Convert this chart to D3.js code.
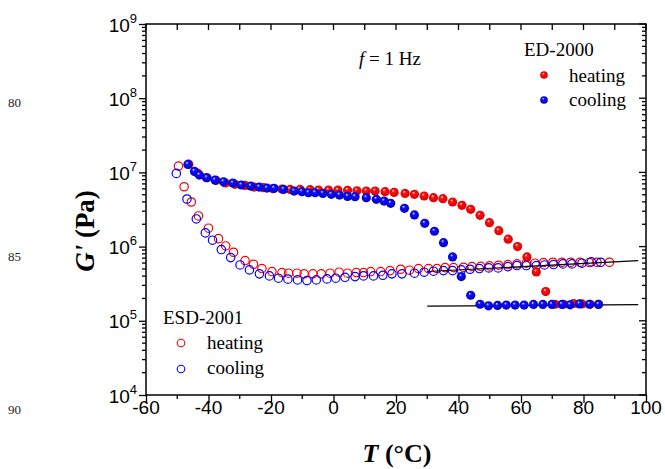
<!DOCTYPE html>
<html><head><meta charset="utf-8">
<script src="https://cdn.jsdelivr.net/npm/d3@7"></script>
<style>body{margin:0;background:#fff}svg{display:block}</style>
</head><body>
<svg id="c" width="665" height="469"></svg>
<script>
// ---------- data ----------
const xTicks = [-60,-40,-20,0,20,40,60,80,100];
const yTickExps = [4,5,6,7,8,9];
const marginNumbers = ["80","85","90"];

// ED-2000 heating (filled red)
const edHeatT = [-46.3,-43.5,-40.7,-37.6,-34.6,-31.5,-28.3,-25.4,-22.4,-19.4,-16.5,-13.9,-10.7,-7.5,-4.8,-1.6,1.4,4.5,7.5,10.5,13.3,16.5,19.4,22.9,25.9,29.0,32.0,35.0,38.1,41.1,43.9,46.9,49.9,52.9,55.9,58.9,61.9,64.9,67.9,70.9,73.6,76.8,79.5,82.1,84.8];
const edHeatG = [1.29e7,9.8e6,8.5e6,7.8e6,7.2e6,6.9e6,6.68e6,6.35e6,6.22e6,6.03e6,5.97e6,5.90e6,5.90e6,5.85e6,5.78e6,5.78e6,5.78e6,5.73e6,5.66e6,5.61e6,5.61e6,5.50e6,5.38e6,5.21e6,5.06e6,4.81e6,4.56e6,4.43e6,3.99e6,3.60e6,3.18e6,2.64e6,2.10e6,1.64e6,1.26e6,1.00e6,7.26e5,4.56e5,2.48e5,1.67e5,1.67e5,1.71e5,1.69e5,1.67e5,1.67e5];

// ED-2000 cooling (filled blue)
const edCoolT = [-46.6,-44.5,-42.9,-40.5,-37.9,-35.2,-32.2,-29.5,-26.5,-23.8,-21.3,-19.0,-16.0,-12.6,-10.1,-8.0,-5.9,-3.4,-0.7,1.9,4.5,6.9,10.5,13.7,16.2,18.3,22.7,25.9,29.2,32.3,35.2,38.1,40.9,43.9,46.9,49.6,52.5,55.3,58.1,61.0,64.0,67.0,69.9,73.1,75.7,78.7,81.9,84.8];
const edCoolG = [1.282e7,1.030e7,9.20e6,8.47e6,7.89e6,7.48e6,7.19e6,6.76e6,6.55e6,6.35e6,6.15e6,6.10e6,5.90e6,5.61e6,5.50e6,5.32e6,5.32e6,5.21e6,5.06e6,4.95e6,4.75e6,4.71e6,4.56e6,4.34e6,4.11e6,3.83e6,3.28e6,2.67e6,2.06e6,1.61e6,1.13e6,7.26e5,3.94e5,2.21e5,1.67e5,1.59e5,1.61e5,1.63e5,1.63e5,1.63e5,1.66e5,1.66e5,1.66e5,1.66e5,1.64e5,1.69e5,1.67e5,1.66e5];

// ESD-2001 heating (open red)
const esdHeatT = [-49.6,-47.8,-45.5,-43.2,-40.0,-36.8,-34.5,-32.0,-28.3,-25.6,-22.9,-19.7,-16.5,-14.4,-11.7,-9.4,-6.6,-3.9,-1.1,1.8,4.5,7.3,9.6,11.9,15.1,18.1,21.5,24.3,27.2,30.4,33.1,35.7,38.4,41.6,44.3,47.1,49.9,52.8,55.8,58.7,61.7,64.5,67.2,70.2,73.1,75.9,78.9,81.9,84.3,88.3];
const esdHeatG = [1.216e7,6.41e6,3.99e6,2.59e6,1.77e6,1.28e6,1.02e6,8.39e5,6.49e5,5.78e5,5.06e5,4.61e5,4.47e5,4.38e5,4.38e5,4.29e5,4.29e5,4.29e5,4.38e5,4.52e5,4.38e5,4.47e5,4.47e5,4.61e5,4.61e5,4.75e5,4.95e5,4.81e5,5.06e5,5.06e5,5.06e5,5.21e5,5.21e5,5.27e5,5.38e5,5.43e5,5.50e5,5.61e5,5.73e5,5.85e5,5.97e5,5.97e5,6.10e5,6.15e5,6.15e5,6.15e5,6.15e5,6.10e5,6.15e5,6.15e5];

// ESD-2001 cooling (open blue)
const esdCoolT = [-50.3,-46.9,-43.9,-41.0,-38.7,-35.9,-32.9,-29.9,-26.9,-23.7,-20.5,-17.6,-14.6,-11.5,-8.5,-5.5,-2.1,0.7,3.7,6.9,9.6,12.8,15.8,18.7,21.9,25.9,29.0,32.0,35.2,38.1,40.9,43.7,46.7,49.7,52.7,55.8,58.7,61.7,64.9,67.5,70.4,73.4,76.3,79.5,82.5,85.5];
const esdCoolG = [9.70e6,4.38e6,2.36e6,1.53e6,1.22e6,9.12e5,7.11e5,5.66e5,4.85e5,4.29e5,4.03e5,3.75e5,3.64e5,3.56e5,3.49e5,3.56e5,3.67e5,3.75e5,3.86e5,3.94e5,4.03e5,4.03e5,4.11e5,4.29e5,4.29e5,4.38e5,4.52e5,4.66e5,4.75e5,4.75e5,4.85e5,4.95e5,5.06e5,5.16e5,5.16e5,5.38e5,5.55e5,5.55e5,5.55e5,5.66e5,5.73e5,5.85e5,5.85e5,5.97e5,6.22e5,6.15e5];

// fitted straight lines
const fitUpperT = [30, 97.5], fitUpperG = [4.62e5, 6.46e5];
const fitLowerT = [30, 97.5], fitLowerG = [1.574e5, 1.652e5];

// ---------- drawing ----------
const svg = d3.select("#c");
const L = 146, R = 646, T = 24, B = 395;
const x = d3.scaleLinear().domain([-60,100]).range([L,R]);
const y = d3.scaleLog().domain([1e4,1e9]).range([B,T]);
const serif = "'Liberation Serif','Times New Roman',serif";
const sans = "'Liberation Sans',Arial,sans-serif";

const defs = svg.append("defs");
function grad(id, c0, c1){
  const g = defs.append("radialGradient").attr("id", id)
    .attr("cx","50%").attr("cy","50%").attr("r","55%").attr("fx","38%").attr("fy","30%");
  g.append("stop").attr("offset","0%").attr("stop-color","#ffffff");
  g.append("stop").attr("offset","28%").attr("stop-color",c0);
  g.append("stop").attr("offset","100%").attr("stop-color",c1);
}
grad("gRed","#ff1010","#d00000");
grad("gBlue","#1010ff","#0000b8");

// margin line numbers
svg.selectAll("text.mn").data(marginNumbers).enter().append("text")
  .attr("x",8).attr("y",(d,i)=>107+i*153.5)
  .attr("font-family",serif).attr("font-size",13).attr("fill","#222").text(d=>d);

// axes
const ax = svg.append("g").attr("stroke","#000").attr("fill","none");
const minorX = d3.range(-50,100,20);
ax.append("g").attr("transform",`translate(0,${B})`)
  .call(d3.axisBottom(x).tickValues(xTicks).tickSize(8).tickFormat(""))
  .call(g=>{g.select(".domain").remove();});
ax.selectAll(".bmin").data(minorX).enter().append("line")
  .attr("x1",d=>x(d)).attr("x2",d=>x(d)).attr("y1",B).attr("y2",B+4);
ax.selectAll(".tt").data(d3.range(-60,101,10)).enter().append("line")
  .attr("x1",d=>x(d)).attr("x2",d=>x(d)).attr("y1",T).attr("y2",T+6);
const yMajor = yTickExps.map(e=>Math.pow(10,e));
const yMinor = [];
for (let e=4;e<9;e++) for (let m=2;m<=9;m++) yMinor.push(m*Math.pow(10,e));
ax.append("g").attr("transform",`translate(${L},0)`)
  .call(d3.axisLeft(y).tickValues(yMajor).tickSize(7).tickFormat(""))
  .call(g=>g.select(".domain").remove());
ax.selectAll(".lmin").data(yMinor).enter().append("line")
  .attr("x1",L).attr("x2",L-4).attr("y1",d=>y(d)).attr("y2",d=>y(d));
ax.selectAll(".rmaj").data(yMajor).enter().append("line")
  .attr("x1",R).attr("x2",R-7).attr("y1",d=>y(d)).attr("y2",d=>y(d));
ax.selectAll(".rmin").data(yMinor).enter().append("line")
  .attr("x1",R).attr("x2",R-4).attr("y1",d=>y(d)).attr("y2",d=>y(d));
svg.selectAll(".tick line").attr("stroke","#000").attr("stroke-width",1.3);
ax.selectAll("line").attr("stroke-width",1.3);
svg.append("rect").attr("x",L).attr("y",T).attr("width",R-L).attr("height",B-T)
  .attr("fill","none").attr("stroke","#000").attr("stroke-width",1.5);

// tick labels
svg.selectAll(".xl").data(xTicks).enter().append("text")
  .attr("x",d=>x(d)).attr("y",414).attr("text-anchor","middle")
  .attr("font-family",sans).attr("font-size",19).text(d=>d);
const yl = svg.selectAll(".yl").data(yTickExps).enter().append("text")
  .attr("x",137).attr("y",d=>y(Math.pow(10,d))+7.5).attr("text-anchor","end")
  .attr("font-family",sans).attr("font-size",19);
yl.append("tspan").text("10");
yl.append("tspan").attr("dy",-9).attr("font-size",13).text(d=>d);

// axis titles
svg.append("text").attr("x",397).attr("y",462).attr("text-anchor","middle")
  .attr("font-family",serif).attr("font-size",26).attr("font-weight","bold")
  .call(t=>{t.append("tspan").attr("font-style","italic").text("T");t.append("tspan").text(" (°C)");});
svg.append("text").attr("transform","translate(94,231) rotate(-90)").attr("text-anchor","middle")
  .attr("font-family",serif).attr("font-size",27).attr("font-weight","bold")
  .call(t=>{t.append("tspan").attr("font-style","italic").text("G'");t.append("tspan").text(" (Pa)");});

// data
const zip = (a,b)=>a.map((v,i)=>[v,b[i]]);
const plot = svg.append("g");
function openPts(data, col){
  plot.append("g").selectAll("circle").data(data).enter().append("circle")
    .attr("cx",d=>x(d[0])).attr("cy",d=>y(d[1])).attr("r",4.2)
    .attr("fill","none").attr("stroke",col).attr("stroke-width",1.2);
}
function filledPts(data, gid){
  plot.append("g").selectAll("circle").data(data).enter().append("circle")
    .attr("cx",d=>x(d[0])).attr("cy",d=>y(d[1])).attr("r",4.6)
    .attr("fill",`url(#${gid})`);
}
openPts(zip(esdHeatT,esdHeatG),"#ff0000");
openPts(zip(esdCoolT,esdCoolG),"#0000ff");
const line = d3.line().x(d=>x(d[0])).y(d=>y(d[1]));
plot.append("path").attr("d",line(zip(fitUpperT,fitUpperG))).attr("stroke","#000").attr("stroke-width",1.2).attr("fill","none");
plot.append("path").attr("d",line(zip(fitLowerT,fitLowerG))).attr("stroke","#000").attr("stroke-width",1.2).attr("fill","none");
filledPts(zip(edHeatT,edHeatG),"gRed");
filledPts(zip(edCoolT,edCoolG),"gBlue");

// annotation
svg.append("text").attr("x",359).attr("y",65).attr("font-family",serif).attr("font-size",19)
  .call(t=>{t.append("tspan").attr("font-style","italic").text("f");t.append("tspan").text(" = 1 Hz");});

// legends
svg.append("text").attr("x",524).attr("y",56).attr("font-family",serif).attr("font-size",19).text("ED-2000");
svg.append("circle").attr("cx",544).attr("cy",75).attr("r",3.8).attr("fill","url(#gRed)");
svg.append("text").attr("x",569).attr("y",82).attr("font-family",serif).attr("font-size",19).text("heating");
svg.append("circle").attr("cx",544).attr("cy",100).attr("r",3.8).attr("fill","url(#gBlue)");
svg.append("text").attr("x",569).attr("y",106).attr("font-family",serif).attr("font-size",19).text("cooling");

svg.append("text").attr("x",163).attr("y",324).attr("font-family",serif).attr("font-size",19).text("ESD-2001");
svg.append("circle").attr("cx",181).attr("cy",343).attr("r",3.8).attr("fill","none").attr("stroke","#ff0000").attr("stroke-width",1.1);
svg.append("text").attr("x",207).attr("y",349).attr("font-family",serif).attr("font-size",19).text("heating");
svg.append("circle").attr("cx",181).attr("cy",369).attr("r",3.8).attr("fill","none").attr("stroke","#0000ff").attr("stroke-width",1.1);
svg.append("text").attr("x",207).attr("y",374).attr("font-family",serif).attr("font-size",19).text("cooling");
</script>
</body></html>
